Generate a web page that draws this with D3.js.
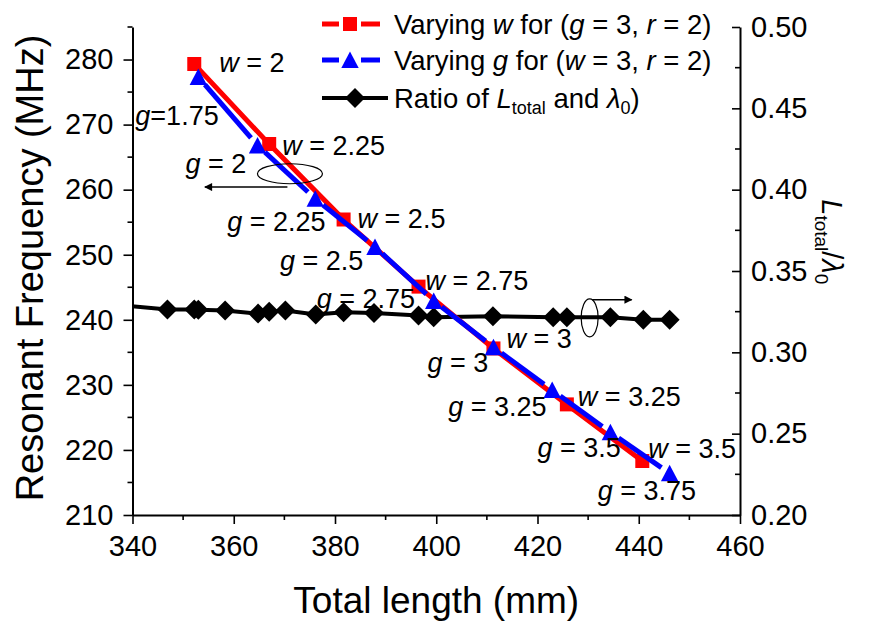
<!DOCTYPE html>
<html>
<head>
<meta charset="utf-8">
<script src="https://cdn.jsdelivr.net/npm/d3@7"></script>
<style>
  body { margin: 0; background: #fff; }
  svg { display: block; }
  text { font-family: Arial, "Liberation Sans", sans-serif; fill: #000; white-space: pre; }
</style>
</head>
<body>
<svg id="chart" width="871" height="624"></svg>
<script>
// ---------------- DATA ----------------
// Varying w for (g = 3, r = 2): total length (mm), resonant frequency (MHz)
const wLength = [352.2, 367.0, 381.7, 396.5, 411.3, 425.8, 440.7];
const wFreq   = [279.3, 267.0, 255.4, 245.1, 235.6, 227.0, 218.3];
const wLabels = ["2", "2.25", "2.5", "2.75", "3", "3.25", "3.5"];

// Varying g for (w = 3, r = 2)
const gLength = [353.0, 364.7, 376.1, 387.9, 399.5, 411.3, 422.9, 434.4, 446.1];
const gFreq   = [277.3, 266.8, 258.6, 251.2, 242.9, 235.8, 229.2, 222.7, 216.4];
const gLabels = ["1.75", "2", "2.25", "2.5", "2.75", "3", "3.25", "3.5", "3.75"];

// Ratio of L_total and lambda_0 (right axis)
const ratioLength = [336.0, 346.9, 352.2, 353.0, 358.3, 364.8, 367.0, 370.2, 376.2, 381.7, 387.7, 396.5, 399.5, 411.2, 423.1, 425.8, 434.4, 440.9, 446.1];
const ratioValue  = [0.3294, 0.3263, 0.3263, 0.3262, 0.3257, 0.3238, 0.3250, 0.3257, 0.3232, 0.3246, 0.3242, 0.3226, 0.3215, 0.3222, 0.3215, 0.3215, 0.3215, 0.3201, 0.3201];

const xTicks  = [340, 360, 380, 400, 420, 440, 460];
const yTicks  = [210, 220, 230, 240, 250, 260, 270, 280];
const y2Ticks = [0.20, 0.25, 0.30, 0.35, 0.40, 0.45, 0.50];

// ---------------- LAYOUT ----------------
const svg = d3.select("#chart");
const L = 132.5, R = 740, T = 27, B = 515;

const x  = d3.scaleLinear().domain([340, 460]).range([L, R]);
const y  = d3.scaleLinear().domain([210, 285]).range([B, T]);
const y2 = d3.scaleLinear().domain([0.20, 0.50]).range([B, T]);

const wData = wLength.map((v, i) => ({x: v, y: wFreq[i], label: wLabels[i]}));
const gData = gLength.map((v, i) => ({x: v, y: gFreq[i], label: gLabels[i]}));
const rData = ratioLength.map((v, i) => ({x: v, y: ratioValue[i]}));

svg.append("defs").append("clipPath").attr("id", "plotclip")
  .append("rect").attr("x", L).attr("y", T).attr("width", R - L).attr("height", B - T);

// ---------------- AXES ----------------
const TICKFONT = 29;
function styleAxis(g) {
  g.select(".domain").attr("stroke", "#000").attr("stroke-width", 2);
  g.selectAll(".tick line").attr("stroke", "#000").attr("stroke-width", 1.6);
  g.selectAll(".tick text").attr("font-size", TICKFONT).attr("font-family", "Arial, 'Liberation Sans', sans-serif");
}

const gx = svg.append("g").attr("transform", `translate(0,${B})`)
  .call(d3.axisBottom(x).tickValues(xTicks).tickFormat(d3.format("d")).tickSizeInner(9).tickSizeOuter(0).tickPadding(11));
styleAxis(gx);
gx.selectAll(".minor").data(d3.range(350, 460, 20)).enter().append("line")
  .attr("x1", d => x(d)).attr("x2", d => x(d)).attr("y1", 0).attr("y2", 5)
  .attr("stroke", "#000").attr("stroke-width", 1.6);

const gy = svg.append("g").attr("transform", `translate(${L},0)`)
  .call(d3.axisLeft(y).tickValues(yTicks).tickFormat(d3.format("d")).tickSizeInner(9).tickSizeOuter(0).tickPadding(10));
styleAxis(gy);
gy.selectAll(".minor").data(d3.range(215, 290, 10)).enter().append("line")
  .attr("y1", d => y(d)).attr("y2", d => y(d)).attr("x1", 0).attr("x2", -5)
  .attr("stroke", "#000").attr("stroke-width", 1.6);

const gy2 = svg.append("g").attr("transform", `translate(${R},0)`)
  .call(d3.axisRight(y2).tickValues(y2Ticks).tickFormat(d3.format(".2f")).tickSizeInner(-8).tickSizeOuter(0).tickPadding(11));
styleAxis(gy2);
gy2.selectAll(".minor").data(d3.range(0.225, 0.5, 0.05)).enter().append("line")
  .attr("y1", d => y2(d)).attr("y2", d => y2(d)).attr("x1", 0).attr("x2", -5)
  .attr("stroke", "#000").attr("stroke-width", 1.6);

// Axis titles
svg.append("text").attr("x", (L + R) / 2).attr("y", 613).attr("text-anchor", "middle")
  .attr("font-size", 37).text("Total length (mm)");
svg.append("text").attr("transform", `translate(43,268) rotate(-90)`).attr("text-anchor", "middle")
  .attr("font-size", 38).text("Resonant Frequency (MHz)");

const rt = svg.append("text").attr("transform", `translate(822,${y2(0.368)}) rotate(90)`)
  .attr("text-anchor", "middle").attr("font-size", 29);
rt.append("tspan").attr("font-style", "italic").text("L");
rt.append("tspan").attr("font-size", 19).attr("dy", 7).text("total");
rt.append("tspan").attr("dy", -7).text("/");
rt.append("tspan").attr("font-style", "italic").text("λ");
rt.append("tspan").attr("font-size", 19).attr("dy", 7).text("0");

// ---------------- SERIES ----------------
const plot = svg.append("g").attr("clip-path", "url(#plotclip)");

// Black ratio line
plot.append("path").datum(rData)
  .attr("d", d3.line().x(d => x(d.x)).y(d => y2(d.y)))
  .attr("fill", "none").attr("stroke", "#000").attr("stroke-width", 4);
const diamond = d3.symbol(d3.symbolSquare, 200)();
plot.selectAll(".dia").data(rData).enter().append("path")
  .attr("d", diamond)
  .attr("transform", d => `translate(${x(d.x)},${y2(d.y)}) rotate(45)`)
  .attr("fill", "#000");

// Red line (varying w)
plot.append("path").datum(wData)
  .attr("d", d3.line().x(d => x(d.x)).y(d => y(d.y)))
  .attr("fill", "none").attr("stroke", "#ff0000").attr("stroke-width", 5);
plot.selectAll(".sq").data(wData).enter().append("path")
  .attr("d", d3.symbol(d3.symbolSquare, 196)())
  .attr("transform", d => `translate(${x(d.x)},${y(d.y)})`)
  .attr("fill", "#ff0000");

// Blue line (varying g) with gaps around markers
const GAP = 10;
const segs = [];
for (let i = 0; i < gData.length - 1; i++) {
  const x0 = x(gData[i].x), y0 = y(gData[i].y), x1 = x(gData[i + 1].x), y1 = y(gData[i + 1].y);
  const len = Math.hypot(x1 - x0, y1 - y0), ux = (x1 - x0) / len, uy = (y1 - y0) / len;
  segs.push([x0 + ux * GAP, y0 + uy * GAP, x1 - ux * GAP, y1 - uy * GAP]);
}
plot.selectAll(".bseg").data(segs).enter().append("line")
  .attr("x1", d => d[0]).attr("y1", d => d[1]).attr("x2", d => d[2]).attr("y2", d => d[3])
  .attr("stroke", "#0000ff").attr("stroke-width", 5);
const triPath = "M0,-8.5L8.7,8L-8.7,8Z";
plot.selectAll(".tri").data(gData).enter().append("path")
  .attr("d", triPath)
  .attr("transform", d => `translate(${x(d.x)},${y(d.y)})`)
  .attr("fill", "#0000ff");

// ---------------- ANNOTATIONS ----------------
const ANNFONT = 27;
const wOff = [[25, 8], [13, 11], [14, 8], [7, 3], [13, 0], [11, 2], [6, -3]];
const gOff = [[-63, 48], [-72, 28], [-88, 32], [-95, 23], [-117, 7], [-66, 25], [-104, 26], [-73, 25], [-72, 27]];

function annot(letter, value, px, py, compact) {
  const t = svg.append("text").attr("x", px).attr("y", py).attr("font-size", ANNFONT);
  t.append("tspan").attr("font-style", "italic").text(letter);
  t.append("tspan").text(compact ? "=" + value : " = " + value);
}
wData.forEach((d, i) => annot("w", d.label, x(d.x) + wOff[i][0], y(d.y) + wOff[i][1], false));
gData.forEach((d, i) => annot("g", d.label, x(d.x) + gOff[i][0], y(d.y) + gOff[i][1], i === 0));

// Ellipses + arrows indicating axes
const arrowG = svg.append("g");
svg.select("defs").append("marker").attr("id", "ah").attr("viewBox", "0 0 10 10")
  .attr("refX", 9).attr("refY", 5).attr("markerWidth", 14).attr("markerHeight", 8)
  .attr("markerUnits", "userSpaceOnUse").attr("orient", "auto")
  .append("path").attr("d", "M0,0L10,5L0,10Z").attr("fill", "#000");

arrowG.append("ellipse").attr("cx", x(371.1)).attr("cy", y(262.45)).attr("rx", 32.5).attr("ry", 10)
  .attr("fill", "none").attr("stroke", "#000").attr("stroke-width", 1.2);
arrowG.append("line").attr("x1", x(370.6)).attr("y1", y(260.4)).attr("x2", x(354.3)).attr("y2", y(260.4))
  .attr("stroke", "#000").attr("stroke-width", 1.5).attr("marker-end", "url(#ah)");

arrowG.append("ellipse").attr("cx", x(430.3)).attr("cy", y(240.3)).attr("rx", 8.5).attr("ry", 19)
  .attr("fill", "none").attr("stroke", "#000").attr("stroke-width", 1.2);
arrowG.append("line").attr("x1", x(430.8)).attr("y1", y(243.1)).attr("x2", x(438.6)).attr("y2", y(243.1))
  .attr("stroke", "#000").attr("stroke-width", 1.5).attr("marker-end", "url(#ah)");

// ---------------- LEGEND ----------------
const leg = svg.append("g");
const LEGFONT = 27.5;
const rows = [
  {y: 24, color: "#ff0000", marker: "sq", parts: [["Varying ", 0], ["w", 1], [" for (", 0], ["g", 1], [" = 3, ", 0], ["r", 1], [" = 2)", 0]]},
  {y: 60, color: "#0000ff", marker: "tri", parts: [["Varying ", 0], ["g", 1], [" for (", 0], ["w", 1], [" = 3, ", 0], ["r", 1], [" = 2)", 0]]},
  {y: 98, color: "#000", marker: "dia", parts: [["Ratio of ", 0], ["L", 1], ["total", 2], [" and ", 0], ["λ", 1], ["0", 2], [")", 0]]}
];
rows.forEach(r => {
  if (r.marker === "dia") {
    leg.append("line").attr("x1", 322).attr("x2", 388).attr("y1", r.y).attr("y2", r.y)
      .attr("stroke", r.color).attr("stroke-width", 4);
    leg.append("path").attr("d", diamond).attr("transform", `translate(355,${r.y}) rotate(45)`).attr("fill", r.color);
  } else {
    leg.append("line").attr("x1", 322).attr("x2", 339).attr("y1", r.y).attr("y2", r.y)
      .attr("stroke", r.color).attr("stroke-width", 5);
    leg.append("line").attr("x1", 361).attr("x2", 380).attr("y1", r.y).attr("y2", r.y)
      .attr("stroke", r.color).attr("stroke-width", 5);
    if (r.marker === "sq") leg.append("path").attr("d", d3.symbol(d3.symbolSquare, 196)()).attr("transform", `translate(350,${r.y})`).attr("fill", r.color);
    else leg.append("path").attr("d", triPath).attr("transform", `translate(350,${r.y})`).attr("fill", r.color);
  }
  const t = leg.append("text").attr("x", 394).attr("y", r.y + 9.5).attr("font-size", LEGFONT);
  let sub = false;
  r.parts.forEach(p => {
    const ts = t.append("tspan").text(p[0]);
    if (p[1] === 1) ts.attr("font-style", "italic");
    if (p[1] === 2) { ts.attr("font-size", 18).attr("dy", 6); sub = true; }
    else if (sub) { ts.attr("dy", -6); sub = false; }
  });
});
</script>
</body>
</html>
